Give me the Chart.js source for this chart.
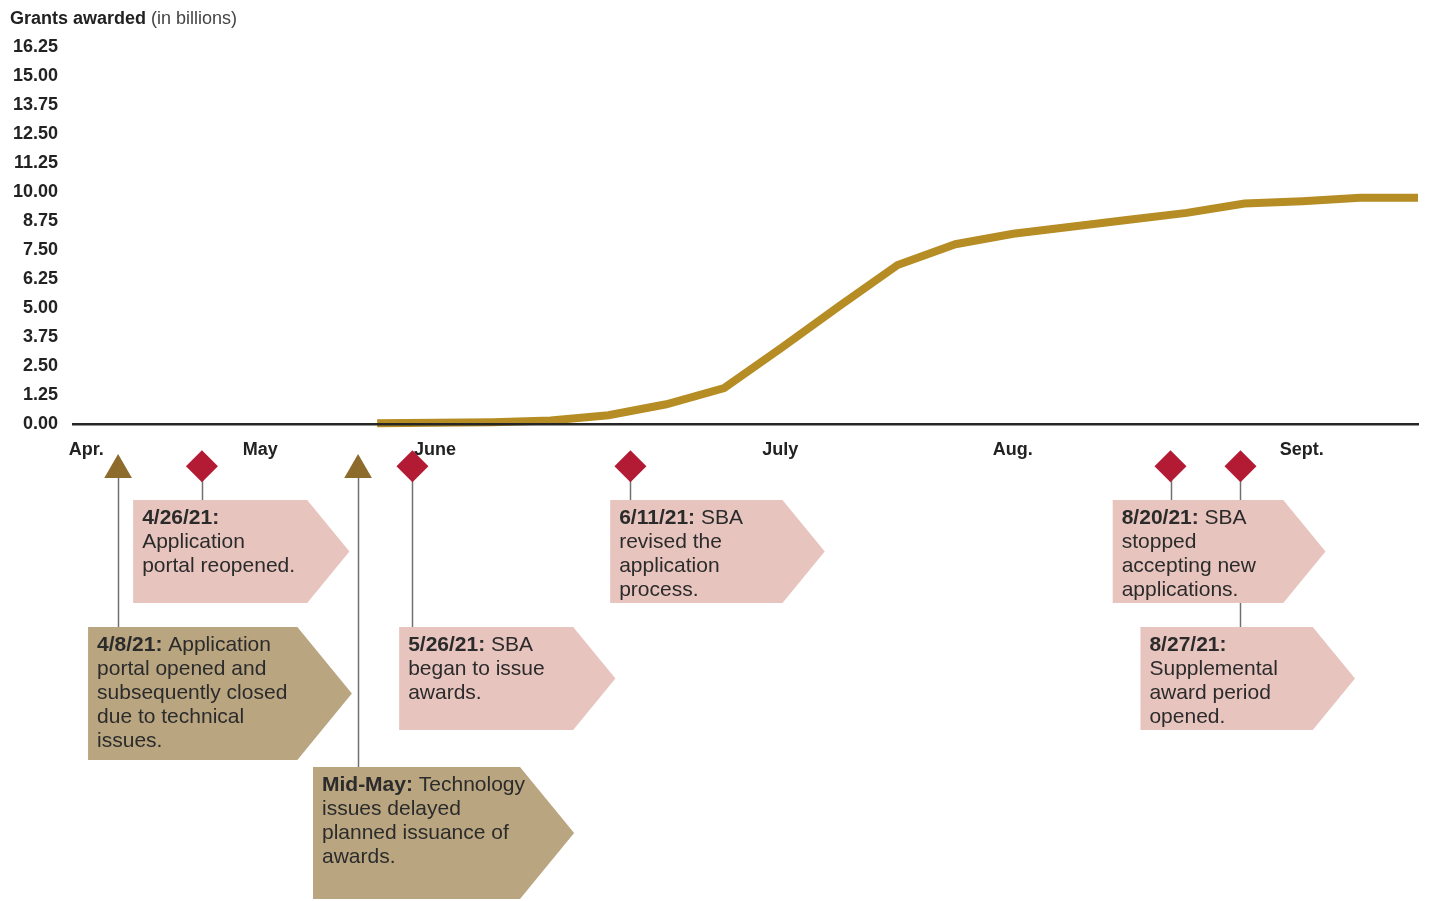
<!DOCTYPE html>
<html>
<head>
<meta charset="utf-8">
<script src="https://cdn.jsdelivr.net/npm/chart.js@4.4.1/dist/chart.umd.min.js"></script>
<style>
  html, body { margin: 0; padding: 0; background: #fff; }
  #wrap { width: 1429px; height: 901px; }
</style>
</head>
<body>
<div id="wrap"><canvas id="myChart" width="1429" height="901"></canvas></div>
<script>
// weekly points, week 0 = first week awards were issued
const weekIndex = [0, 1, 2, 3, 4, 5, 6, 7, 8, 9, 10, 11, 12, 13, 14, 15, 16, 17, 18];
const grantsBillions = [0.03, 0.05, 0.08, 0.15, 0.38, 0.85, 1.55, 3.3, 5.1, 6.85, 7.75, 8.2, 8.5, 8.8, 9.1, 9.5, 9.6, 9.75, 9.75];

const monthLabels = ["Apr.", "May", "June", "July", "Aug.", "Sept."];
const monthWeeks = [-5.03, -2.02, 1, 6.97, 10.99, 15.99];
const yTickValues = [0, 1.25, 2.5, 3.75, 5, 6.25, 7.5, 8.75, 10, 11.25, 12.5, 13.75, 15, 16.25];

const eventDates = ["4/8/21:", "4/26/21:", "Mid-May:", "5/26/21:", "6/11/21:", "8/20/21:", "8/27/21:"];
const eventWeeks = [-4.48, -3.03, -0.33, 0.61, 4.38, 13.72, 14.93];
const eventKinds = ["triangle", "diamond", "triangle", "diamond", "diamond", "diamond", "diamond"];
const eventText = [
  [" Application", "portal opened and", "subsequently closed", "due to technical", "issues."],
  ["", "Application", "portal reopened."],
  [" Technology", "issues delayed", "planned issuance of", "awards."],
  [" SBA", "began to issue", "awards."],
  [" SBA", "revised the", "application", "process."],
  [" SBA", "stopped", "accepting new", "applications."],
  ["", "Supplemental", "award period", "opened."]
];

// marker rows and callout boxes, in axis units (x: weeks, y: billions below the axis)
const diamondLevel = -1.82;
const triangleLevel = -1.98;
const callouts = [
  { left: -5.0, right: -1.38, top: -8.75, bottom: -14.48, tan: true },
  { left: -4.22, right: -1.21, top: -3.28, bottom: -7.72, tan: false },
  { left: -1.11, right: 2.47, top: -14.78, bottom: -20.47, tan: true },
  { left: 0.38, right: 3.39, top: -8.75, bottom: -13.19, tan: false },
  { left: 4.03, right: 7.01, top: -3.28, bottom: -7.72, tan: false },
  { left: 12.72, right: 15.67, top: -3.28, bottom: -7.72, tan: false },
  { left: 13.2, right: 16.18, top: -8.75, bottom: -13.19, tan: false }
];

const lineData = weekIndex.map((w, i) => ({ x: w, y: grantsBillions[i] }));
const diamondData = [];
const triangleData = [];
eventWeeks.forEach((w, i) => {
  if (eventKinds[i] === "triangle") triangleData.push({ x: w, y: triangleLevel });
  else diamondData.push({ x: w, y: diamondLevel });
});

const FONT = "'Liberation Sans', Arial, sans-serif";

const calloutPlugin = {
  id: "callouts",
  beforeDatasetsDraw(chart) {
    const { ctx, scales: { x, y } } = chart;
    ctx.save();
    // connector lines
    ctx.strokeStyle = "#707070";
    ctx.lineWidth = 1.5;
    eventWeeks.forEach((w, i) => {
      const px = Math.round(x.getPixelForValue(w)) + 0.5;
      const lvl = eventKinds[i] === "triangle" ? triangleLevel : diamondLevel;
      ctx.beginPath();
      ctx.moveTo(px, y.getPixelForValue(lvl));
      ctx.lineTo(px, y.getPixelForValue(callouts[i].top));
      ctx.stroke();
    });
    // arrow boxes
    callouts.forEach((c, i) => {
      const l = x.getPixelForValue(c.left);
      const r = x.getPixelForValue(c.right);
      const t = y.getPixelForValue(c.top);
      const b = y.getPixelForValue(c.bottom);
      const tip = r + (b - t) * 0.41;
      ctx.fillStyle = c.tan ? "#b9a580" : "#e8c4be";
      ctx.beginPath();
      ctx.moveTo(l, t);
      ctx.lineTo(r, t);
      ctx.lineTo(tip, (t + b) / 2);
      ctx.lineTo(r, b);
      ctx.lineTo(l, b);
      ctx.closePath();
      ctx.fill();

      ctx.fillStyle = "#2b2b2b";
      ctx.textBaseline = "middle";
      ctx.textAlign = "left";
      const tx = l + 9;
      let ty = t + 18;
      eventText[i].forEach((line, j) => {
        let cx = tx;
        if (j === 0) {
          ctx.font = "bold 21px " + FONT;
          ctx.fillText(eventDates[i], cx, ty);
          cx += ctx.measureText(eventDates[i]).width;
        }
        ctx.font = "21px " + FONT;
        ctx.fillText(line, cx, ty);
        ty += 24;
      });
    });
    ctx.restore();
  },
  afterDraw(chart) {
    const ctx = chart.ctx;
    ctx.save();
    ctx.textBaseline = "alphabetic";
    ctx.textAlign = "left";
    ctx.font = "bold 18px " + FONT;
    ctx.fillStyle = "#222";
    const head = "Grants awarded";
    ctx.fillText(head, 10, 24);
    const hw = ctx.measureText(head).width;
    ctx.font = "18px " + FONT;
    ctx.fillStyle = "#444";
    ctx.fillText(" (in billions)", 10 + hw, 24);
    ctx.restore();
  }
};

function noPadding(s) {
  s.paddingLeft = 0;
  s.paddingRight = 0;
  s.paddingTop = 0;
  s.paddingBottom = 0;
}

const ctx = document.getElementById("myChart").getContext("2d");
const myChart = new Chart(ctx, {
  type: "line",
  data: {
    datasets: [
      {
        label: "Grants awarded",
        data: lineData,
        borderColor: "#b58d24",
        borderWidth: 8,
        pointRadius: 0,
        tension: 0,
        fill: false
      },
      {
        label: "events (diamond)",
        data: diamondData,
        showLine: false,
        pointStyle: "rectRot",
        pointRadius: 16,
        pointHoverRadius: 16,
        pointBackgroundColor: "#b31b35",
        pointBorderWidth: 0
      },
      {
        label: "events (triangle)",
        data: triangleData,
        showLine: false,
        pointStyle: "triangle",
        pointRadius: 16,
        pointHoverRadius: 16,
        pointBackgroundColor: "#8c6b2c",
        pointBorderWidth: 0
      }
    ]
  },
  options: {
    responsive: false,
    animation: false,
    events: [],
    layout: { autoPadding: false, padding: { top: 47, right: 11, bottom: 0, left: 0 } },
    plugins: {
      legend: { display: false },
      tooltip: { enabled: false }
    },
    scales: {
      x: {
        type: "linear",
        min: -5.26,
        max: 18,
        position: { y: 0 },
        grid: { display: true, color: "transparent", drawTicks: false },
        border: { display: true, color: "#262626", width: 2.5, z: 1 },
        afterFit: (s) => {
          s.height = 0;
          noPadding(s);
        },
        afterBuildTicks: (s) => { s.ticks = monthWeeks.map((v) => ({ value: v })); },
        ticks: {
          autoSkip: false,
          maxRotation: 0,
          padding: 15,
          color: "#222",
          font: { family: FONT, size: 18, weight: "bold" },
          callback: (v, i) => monthLabels[i]
        }
      },
      y: {
        type: "linear",
        min: -20.56,
        max: 16.25,
        grid: { display: false, drawTicks: false },
        border: { display: false },
        afterFit: (s) => {
          s.width = 73;
          noPadding(s);
        },
        afterBuildTicks: (s) => { s.ticks = yTickValues.map((v) => ({ value: v })); },
        ticks: {
          padding: 15,
          color: "#222",
          font: { family: FONT, size: 18, weight: "bold" },
          callback: (v) => v.toFixed(2)
        }
      }
    }
  },
  plugins: [calloutPlugin]
});
</script>
</body>
</html>
